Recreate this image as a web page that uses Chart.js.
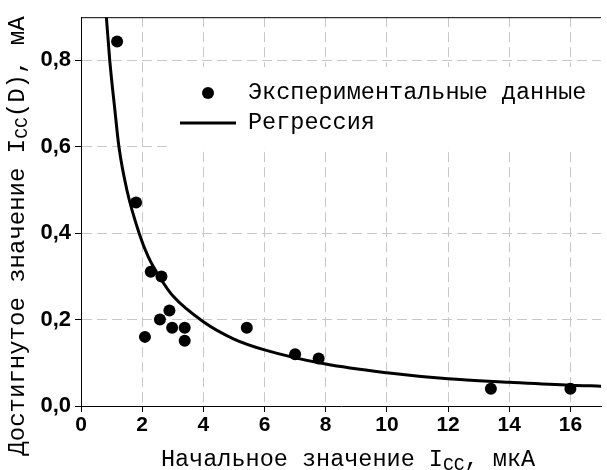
<!DOCTYPE html>
<html>
<head>
<meta charset="utf-8">
<script src="https://cdn.jsdelivr.net/npm/chart.js@4"></script>
<style>
  html, body { margin: 0; padding: 0; background: #fff; }
  canvas { display: block; }
</style>
</head>
<body>
<canvas id="c" width="607" height="470"></canvas>
<script>
const expX = [1.18, 1.80, 2.09, 2.28, 2.63, 2.58, 2.89, 2.98, 3.39, 3.39, 5.42, 7.00, 7.77, 13.4, 16.0];
const expY = [0.844, 0.471, 0.160, 0.311, 0.300, 0.200, 0.221, 0.181, 0.181, 0.151, 0.181, 0.120, 0.110, 0.040, 0.040];
// Regression curve
const regX = [0.83, 0.94, 1.1, 1.24, 1.5, 1.9, 2.2, 2.6, 3.0, 4.0, 5.0, 6.0, 8.0, 10, 12, 14, 16, 17];
const regY = [0.90, 0.80, 0.69, 0.60, 0.50, 0.40, 0.345, 0.295, 0.255, 0.195, 0.155, 0.130, 0.097, 0.077, 0.063, 0.055, 0.048, 0.046];
// Axis ticks
const xTicks = [0, 2, 4, 6, 8, 10, 12, 14, 16];
const yTicks = ['0,0', '0,2', '0,4', '0,6', '0,8'];
const legendLabels = ['Экспериментальные данные', 'Регрессия'];

const MONO = '"Liberation Mono", "Courier New", monospace';
const SANS = '"Liberation Sans", Arial, sans-serif';

function drawSubText(ctx, parts, x, y, align) {
  let total = 0;
  parts.forEach(p => { ctx.font = p.size + 'px ' + MONO; total += ctx.measureText(p.t).width; });
  let cx = align === 'center' ? x - total / 2 : x;
  ctx.textAlign = 'left';
  ctx.textBaseline = 'alphabetic';
  parts.forEach(p => {
    ctx.font = p.size + 'px ' + MONO;
    ctx.fillText(p.t, cx, y + (p.dy || 0));
    cx += ctx.measureText(p.t).width;
  });
}

const decor = {
  id: 'decor',
  beforeDatasetsDraw(chart) {
    const ctx = chart.ctx, a = chart.chartArea;
    ctx.save();
    // legend box
    ctx.fillStyle = '#fff';
    ctx.fillRect(170, 67, a.right - 170, 80);
    ctx.fillStyle = '#000';
    ctx.beginPath();
    ctx.arc(208, 93, 6, 0, Math.PI * 2);
    ctx.fill();
    ctx.strokeStyle = '#000';
    ctx.lineWidth = 3;
    ctx.beginPath();
    ctx.moveTo(180, 123);
    ctx.lineTo(236, 123);
    ctx.stroke();
    ctx.font = '23.5px ' + MONO;
    ctx.textAlign = 'left';
    ctx.textBaseline = 'middle';
    ctx.fillText(legendLabels[0], 248, 93);
    ctx.fillText(legendLabels[1], 248, 123);
    // top border
    ctx.lineWidth = 1;
    ctx.beginPath();
    ctx.moveTo(a.left, a.top + 0.5);
    ctx.lineTo(a.right, a.top + 0.5);
    ctx.stroke();
    ctx.restore();
  },
  afterDraw(chart) {
    const ctx = chart.ctx;
    ctx.save();
    ctx.fillStyle = '#000';
    // x title
    drawSubText(ctx, [
      {t: 'Начальное значение I', size: 23.5},
      {t: 'CC', size: 18, dy: 4},
      {t: ', мкА', size: 23.5}
    ], 348, 466, 'center');
    // y title
    ctx.translate(24, 236);
    ctx.rotate(-Math.PI / 2);
    drawSubText(ctx, [
      {t: 'Достигнутое значение I', size: 24},
      {t: 'CC', size: 18, dy: 3},
      {t: '(D), мА', size: 24}
    ], 0, 0, 'center');
    ctx.restore();
  }
};

const gridOpts = {
  color: (c) => c.tick && c.tick.value === 0 ? 'rgba(0,0,0,0)' : '#c8c8c8',
  lineWidth: 1,
  borderDash: [10, 5],
  drawTicks: true,
  tickLength: 6,
  tickColor: '#000',
  tickBorderDash: []
};
const borderOpts = { display: true, color: '#000', width: 1, dash: [10, 5], dashOffset: 0 };

new Chart(document.getElementById('c'), {
  type: 'scatter',
  data: {
    datasets: [
      {
        label: legendLabels[0],
        data: expX.map((x, i) => ({x, y: expY[i]})),
        pointRadius: 6,
        pointHoverRadius: 6,
        backgroundColor: '#000',
        borderColor: '#000',
        borderWidth: 0,
        order: 1
      },
      {
        label: legendLabels[1],
        type: 'line',
        data: regX.map((x, i) => ({x, y: regY[i]})),
        showLine: true,
        borderColor: '#000',
        borderWidth: 3,
        pointRadius: 0,
        cubicInterpolationMode: 'monotone',
        fill: false,
        order: 2
      }
    ]
  },
  options: {
    responsive: false,
    devicePixelRatio: 1,
    animation: false,
    events: [],
    layout: { padding: { left: 0, right: 0, top: 15, bottom: 0 } },
    plugins: { legend: { display: false }, tooltip: { enabled: false } },
    scales: {
      x: {
        type: 'linear',
        min: 0, max: 17,
        afterFit(s) { s.height = 64; },
        ticks: {
          stepSize: 2,
          includeBounds: false,
          color: '#000',
          padding: 1,
          font: { family: SANS, size: 21, weight: 'bold' },
          callback: (v) => xTicks.includes(v) ? String(v) : ''
        },
        grid: gridOpts,
        border: borderOpts
      },
      y: {
        type: 'linear',
        min: 0, max: 0.9,
        afterFit(s) { s.width = 81; },
        ticks: {
          stepSize: 0.2,
          includeBounds: false,
          color: '#000',
          padding: 4,
          font: { family: SANS, size: 22, weight: 'bold' },
          callback: (v) => {
            const i = Math.round(v / 0.2);
            return Math.abs(v - i * 0.2) < 1e-6 ? yTicks[i] : '';
          }
        },
        grid: gridOpts,
        border: borderOpts
      }
    }
  },
  plugins: [decor]
});
</script>
</body>
</html>
